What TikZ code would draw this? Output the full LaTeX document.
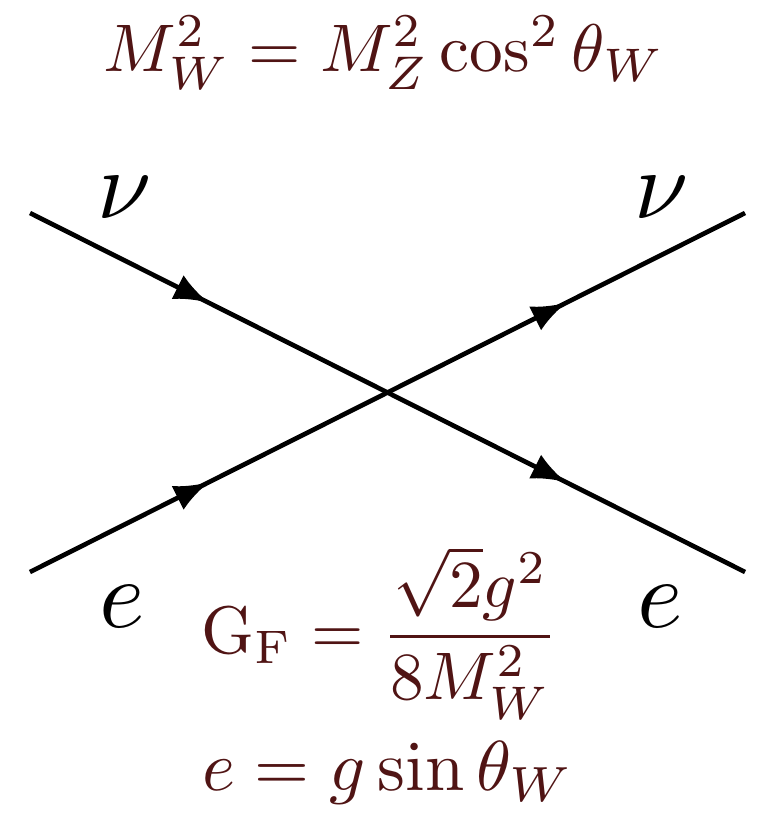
\documentclass[tikz,border=0pt]{standalone}
\usetikzlibrary{decorations.markings,arrows.meta}
\definecolor{formula}{RGB}{80,20,20}
\tikzset{
  fermion/.style={line width=3.5pt,
    postaction={decorate,decoration={markings,
      mark=at position #1 with {\arrow{Latex[length=26pt,width=20pt]}}}}},
  fermion/.default=0.5,
  lbl/.style={scale=7.3,transform shape},
  frm/.style={text=formula,scale=5.05,transform shape}
}
\begin{document}
\begin{tikzpicture}[x=0.75pt,y=-0.75pt]
\useasboundingbox (0,0) rectangle (758,815);
\coordinate (a1) at (30,213);
\coordinate (a2) at (745,572);
\coordinate (b1) at (30,572);
\coordinate (b2) at (745,213);
\coordinate (x) at (387.5,392.5);
\draw[fermion=0.5] (a1) -- (x);
\draw[fermion=0.5] (b1) -- (x);
\draw[fermion=0.5] (x) -- (a2);
\draw[fermion=0.5] (x) -- (b2);
\node[lbl] (nuL) at (125,198) {$\nu$};
\node[lbl] (nuR) at (662,198) {$\nu$};
\node[lbl] (eL) at (122,607) {$e$};
\node[lbl] (eR) at (660,607) {$e$};
\node[frm] (mw) at (384,53) {$M_W^2 = M_Z^2\cos^2\theta_W$};
\node[frm] (gf) at (380,633) {$\displaystyle\mathrm{G_F} = \frac{\sqrt{2}g^2}{8M_W^2}$};
\node[frm,scale=1.05] (ee) at (388,773) {$e = g\sin\theta_W$};
\end{tikzpicture}
\end{document}
